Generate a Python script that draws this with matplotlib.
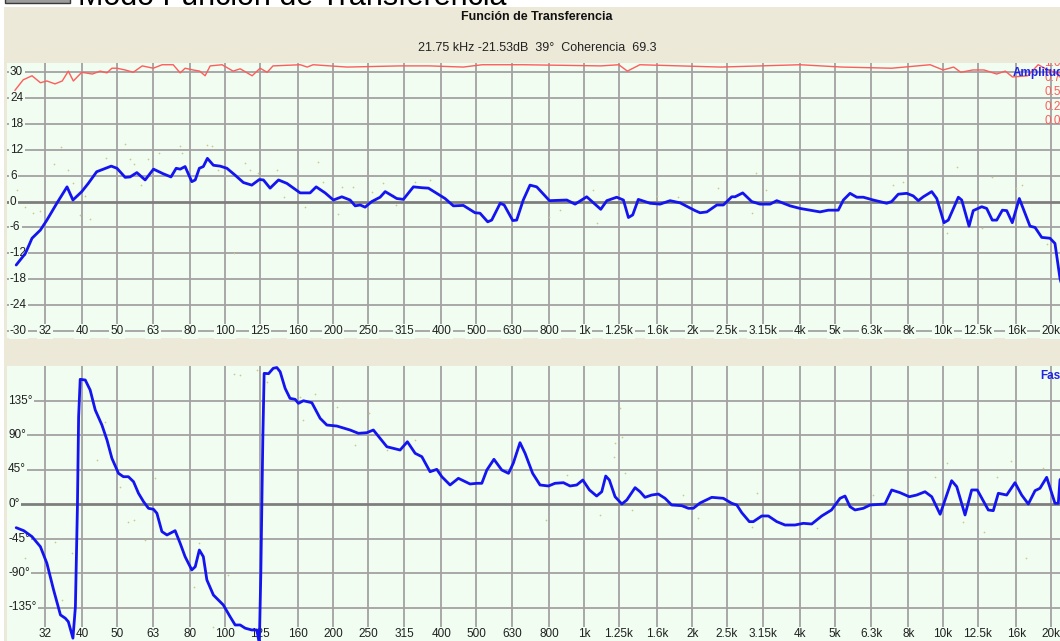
import matplotlib.pyplot as plt
from matplotlib.patches import Rectangle

# -------------------------
# Datos
# -------------------------
freq_ticks = [31.5, 40, 50, 63, 80, 100, 125, 160, 200, 250, 315, 400, 500, 630, 800,
              1000, 1250, 1600, 2000, 2500, 3150, 4000, 5000, 6300, 8000, 10000, 12500,
              16000, 20000]
freq_labels = ["32", "40", "50", "63", "80", "100", "125", "160", "200", "250", "315",
               "400", "500", "630", "800", "1k", "1.25k", "1.6k", "2k", "2.5k", "3.15k",
               "4k", "5k", "6.3k", "8k", "10k", "12.5k", "16k", "20k"]

amp_ticks = [30, 24, 18, 12, 6, 0, -6, -12, -18, -24, -30]
phase_ticks = [135, 90, 45, 0, -45, -90, -135]
phase_labels = ["135°", "90°", "45°", "0°", "-45°", "-90°", "-135°"]
coh_ticks = [1.0, 0.75, 0.5, 0.25, 0.0]
coh_labels = ["1.0", "0.7", "0.5", "0.2", "0.0"]

# amplitud (dB)
amp_freq = [26.2, 27.8, 29.0, 30.6, 31.9, 34.0, 36.3, 37.7, 39.9, 41.6,
            43.9, 45.8, 48.2, 50.0, 52.7, 54.4, 56.8, 59.9, 63.2, 67.4,
            70.7, 73.1, 75.0, 77.4, 80.8, 82.6, 84.8, 87.0, 89.3, 92.8,
            96.9, 101.2, 106.7, 112.5, 118.7, 124.6, 127.9, 133.5, 140.9, 148.7,
            161.9, 172.5, 179.4, 190.0, 200.4, 211.5, 223.0, 230.4, 237.9, 245.5,
            256.3, 270.3, 279.3, 300.8, 313.8, 334.7, 353.3, 368.5, 410, 432.5,
            461, 497, 513, 539, 553, 584, 599, 633, 649, 677,
            707, 738, 801, 895, 944, 1017, 1113, 1157, 1233, 1287,
            1329, 1366, 1416, 1527, 1628, 1736, 1851, 2038, 2104, 2198,
            2343, 2443, 2578, 2634, 2766, 2930, 3091, 3297, 3441, 3748,
            3996, 4261, 4541, 4790, 5105, 5275, 5505, 5748, 5996, 6391,
            6964, 7191, 7501, 7917, 8257, 8530, 8808, 9296, 9600, 10057,
            10339, 11026, 11267, 11810, 12133, 12810, 13224, 13707, 14105, 14623,
            15036, 15583, 16300, 17460, 18035, 18822, 19847, 20490, 20935, 21160,
            21750]
amp_db = [-14.7, -12.0, -8.5, -6.6, -4.3, -0.4, 3.4, 0.35, 2.3, 4.2,
          6.9, 7.5, 8.2, 7.7, 5.6, 5.7, 6.7, 5.0, 7.5, 6.4,
          5.7, 7.7, 7.5, 8.1, 4.6, 5.0, 7.7, 8.1, 10.0, 8.4,
          8.2, 7.7, 6.1, 4.4, 3.8, 5.1, 5.0, 3.1, 5.0, 4.2,
          2.0, 2.0, 3.4, 2.0, 0.35, 1.1, 0.35, -1.0, -0.8, -1.3,
          0.0, 1.0, 2.3, 0.7, 0.5, 3.4, 3.2, 3.1, 0.7, -1.0,
          -0.9, -2.6, -2.7, -4.7, -4.3, -0.4, -0.8, -4.4, -4.3, 0.35,
          3.8, 3.4, 0.2, 0.35, -0.6, 1.1, -1.8, 0.2, 1.0, 0.35,
          -3.7, -3.1, 0.5, -0.4, -0.6, 0.2, -0.3, -2.1, -2.6, -2.4,
          -0.8, -0.8, 1.1, 1.1, 2.0, 0.0, -0.6, -0.6, 0.2, -1.0,
          -1.6, -2.0, -2.4, -2.0, -2.0, 0.35, 1.9, 1.0, 1.0, 0.35,
          -0.4, 0.0, 1.7, 1.9, 1.3, 0.2, 1.1, 2.3, 0.7, -4.9,
          -4.3, 1.0, 0.35, -5.7, -2.1, -1.2, -1.6, -4.3, -4.3, -2.0,
          -2.1, -4.9, 0.7, -5.7, -6.0, -8.3, -8.5, -9.7, -15.1, -17.8,
          -21.5]

# fase (grados)
ph_freq = [26.2, 27.5, 29.0, 30.6, 31.9, 33.3, 34.8, 35.9, 36.6, 37.7,
           38.3, 38.8, 39.1, 39.5, 40.8, 42.1, 43.5, 45.4, 46.9, 48.4,
           50.5, 52.1, 53.8, 55.6, 57.4, 59.3, 61.2, 63.2, 64.6, 66.7,
           68.9, 72.6, 75.0, 77.4, 80.8, 82.6, 84.8, 87.0, 89.0, 92.8,
           98.9, 103.3, 106.7, 110.2, 113.8, 118.7, 122.6, 124.6, 125.8, 127.4,
           128.5, 132.2, 136.2, 139.4, 142.4, 147.0, 151.7, 156.8, 160.1, 165.3,
           174.5, 184.0, 192.1, 204.8, 223.0, 235.2, 248.2, 258.9, 282.3, 307.3,
           322, 338.5, 353.3, 372.4, 388.8, 401.6, 423.4, 446.6, 481.3, 503,
           519, 536, 561, 590, 616, 635, 663, 685, 719, 754,
           796, 830, 876, 914, 954, 992, 1035, 1084, 1120, 1149,
           1176, 1220, 1274, 1315, 1387, 1432, 1478, 1543, 1610, 1681,
           1754, 1871, 1952, 2015, 2104, 2268, 2443, 2578, 2663, 2749,
           2886, 2961, 3125, 3260, 3441, 3628, 3869, 4081, 4305, 4592,
           4888, 5163, 5331, 5505, 5684, 5996, 6260, 6888, 7191, 7585,
           8050, 8440, 8905, 9296, 9810, 10562, 10914, 11510, 12010, 12450,
           13362, 13795, 14250, 15036, 15856, 16550, 17270, 18035, 18610, 19430,
           20490, 20935, 21160, 21750]
ph_deg = [-30.9, -34.8, -42.6, -55.7, -77.3, -112, -144.7, -149, -153.5, -175,
          -134, -3.5, 113.8, 162.6, 161.7, 148.7, 122.6, 103, 83.5, 59.6,
          40, 35.6, 35.6, 29.1, 14, 3, -5.6, -6.9, -12.1, -36,
          -40.4, -34.8, -51.3, -68.7, -86, -81.8, -60, -68.7, -99, -118.7,
          -131.7, -147, -157.8, -157.8, -162, -164.3, -164.3, -182, -90, 83.5,
          170.4, 170, 177, 178, 172.5, 150.9, 137.8, 136.5, 131.3, 134.7,
          132.1, 111.8, 103, 101.7, 96.5, 92.2, 93, 96.5, 74.7, 70.4,
          81.2, 66.1, 61.7, 42.1, 45.2, 35.6, 24.8, 33.5, 26.1, 27,
          27, 44.3, 58.3, 44.3, 40, 53.1, 80, 66.1, 40, 24.8,
          23.5, 27, 27.8, 23.5, 24.8, 31.3, 18.3, 10.4, 16, 36.5,
          31.3, 9.5, 0, 5.2, 21.3, 16, 8.7, 11.7, 13, 7.4,
          -1.3, -2.2, -5.6, -5.6, 1.3, 8.7, 7.4, 0.9, -1.3, -11.3,
          -23, -23, -15.6, -15.6, -23, -27.4, -27.4, -25.2, -26.1, -15.6,
          -7.8, 7.4, 10.4, -3.5, -7.8, -5.6, -1.3, 0, 18.3, 14.8,
          9.5, 11.7, 16, 9.5, -13.4, 30.4, 22.6, -14.3, 18.3, 18.3,
          -7.8, -8.7, 14, 11.7, 27.8, 11.7, 0, 17.4, 20.5, 34.8,
          0.9, 0.9, 31.3, 39]

# coherencia (0..1)
coh_freq = [26.0, 27.4, 29.0, 30.6, 31.9, 33.6, 35.2, 36.6, 37.8, 39.9,
            42.7, 44.9, 46.9, 48.4, 50.0, 52.7, 55.5, 58.8, 63.1, 66.8,
            71.7, 75.0, 77.4, 81.5, 85.0, 88.0, 90.9, 98.1, 105.3, 110.2,
            119, 125.2, 131.0, 136, 162, 169.4, 175.9, 218.9, 307, 372,
            461, 520, 680, 1113, 1250, 1320, 1430, 2400, 3996, 5230,
            7190, 9200, 10000, 10700, 11200, 12100, 13000, 14100, 14900, 15600,
            17200, 18400, 19600, 20500, 21750]
coh = [0.53, 0.71, 0.78, 0.66, 0.69, 0.64, 0.69, 0.86, 0.69, 0.84,
       0.81, 0.86, 0.83, 0.91, 0.91, 0.88, 0.84, 0.95, 0.91, 0.97,
       0.97, 0.83, 0.91, 0.88, 0.86, 0.78, 0.95, 0.97, 0.86, 0.90,
       0.78, 0.91, 0.84, 0.95, 0.97, 0.93, 0.97, 0.93, 0.95, 0.95,
       0.93, 0.97, 0.97, 0.95, 0.97, 0.86, 0.97, 0.93, 0.97, 0.93,
       0.91, 0.97, 0.88, 0.93, 0.84, 0.88, 0.88, 0.81, 0.86, 0.76,
       0.78, 0.97, 0.88, 0.84, 0.69]

# puntos sin suavizar
dot_amp_freq = [34.9, 33.3, 36.6, 26.3, 27.8, 29.1, 30.6, 37.7, 39.5, 40.8,
                42.1, 46.7, 52.7, 55.6, 54.2, 58.3, 61.2, 65.6, 74.7, 75.9,
                89.0, 91.9, 95.8, 105.6, 113.8, 117.0, 123.6, 139.4, 145.5, 167.5,
                182, 187.2, 206, 211.5, 227, 256, 276, 294, 300, 338,
                372, 801, 857, 1084, 1057, 1246, 1594, 1830, 3020, 2930,
                2366, 3220, 7240, 7750, 10900, 10250, 13650, 15970, 16600, 19430,
                12810]
dot_amp_db = [12.7, 8.8, 7.3, 2.7, -1.3, -2.6, -2.1, 4.3, -3.1, 1.3,
              -4.1, 10, 13.3, 8.8, 9.8, 3.8, 9.8, 11.2, 12.8, 11.2,
              13.1, 12.8, 7.3, -11.9, 9.0, 7.3, 6.5, 7.3, 1.1, -1.3,
              9.2, 4.6, -2.9, 3.4, 3.4, 2.3, 4.2, 1.5, -0.8, 4.6,
              5.0, -3.5, -2.0, -5.0, 2.7, 2.3, 1.3, 1.1, 6.7, -2.6,
              3.1, 2.7, 3.8, 4.6, 8.1, -7.4, 5.7, 3.1, 3.8, -9.8,
              -6.2]
dot_ph_freq = [105.6, 110, 123, 130.7, 162, 178, 165, 205, 43.9, 46.4,
               64, 51, 53.8, 55.6, 59.9, 33.6, 27.8, 37.4, 35.2, 81.7,
               84.8, 92.8, 102, 251, 230, 338, 282, 785, 895, 1256,
               1274, 1208, 1220, 1300, 1108, 1357, 1890, 2070, 3025, 2930,
               4440, 6391, 10250, 9970, 11330, 12970, 15450, 17000, 19020, 14105,
               9480]
dot_ph_deg = [170, 168, 175, 159.5, 140, 144, 109.5, 127, 57.4, 107,
              33.5, 22.6, -23, -20.9, -47, -49, -70.8, -64.3, -125, -107.8,
              -51.3, -160, -92.6, 119, 77, 84, 70, -20.9, 37.8, 124.8,
              87.8, 61.7, 79, 40, -14.3, -7.8, 11.7, -18.7, 14, -29.6,
              -31.7, 11.7, 53, -86, -23, -36, 56.5, -70.8, 46.5, 35.6,
              35.6]

# -------------------------
# Estilo
# -------------------------
W, H = 1060, 641
PANEL = "#ECE9D8"
PLOT_BG = "#F0FDF0"
GRID = "#A2A2A2"
ZERO = "#7E7E7E"
BLUE = "#1414F0"
RED = "#FF5C5C"
DOT = "#C9C98A"
FS = 8.5

plt.rcParams["font.family"] = ["Liberation Sans", "DejaVu Sans"]


def px_box(x0, y0, x1, y1):
    return [x0 / W, 1 - y1 / H, (x1 - x0) / W, (y1 - y0) / H]


def clean(ax):
    for s in ax.spines.values():
        s.set_visible(False)
    ax.set_xticks([])
    ax.set_xticks([], minor=True)
    ax.set_yticks([])
    ax.set_yticks([], minor=True)


label_box = dict(boxstyle="square,pad=0.12", fc=PLOT_BG, ec="none")

fig = plt.figure(figsize=(W / 100, H / 100), dpi=100)
fig.patch.set_facecolor("white")
fig.patches.append(Rectangle((4 / W, 0), 1, (H - 7) / H, transform=fig.transFigure,
                             facecolor=PANEL, edgecolor="none", zorder=-2))
fig.patches.append(Rectangle((5 / W, 1 - 2.5 / H), 65 / W, 0.05, transform=fig.transFigure,
                             facecolor="#9C9C9C", edgecolor="#3A3A3A", lw=1, zorder=-1))
fig.text(78 / W, 1 - 5 / H, "Modo Función de Transferencia", fontsize=22,
         va="baseline", ha="left", color="black", zorder=-1)

fig.text(537 / W, 1 - 17 / H, "Función de Transferencia", fontsize=9, fontweight="bold",
         ha="center", va="center", color="#111111")
fig.text(537 / W, 1 - 48 / H, "21.75 kHz -21.53dB  39°  Coherencia  69.3", fontsize=9,
         ha="center", va="center", color="#222222")

# -------------------------
# Amplitud
# -------------------------
ax = fig.add_axes(px_box(7, 63, 1075, 338))
ax.set_facecolor(PLOT_BG)
ax.set_xscale("log")
ax.set_xlim(24.7, 23300)
ax.set_ylim(-31.6, 32.08)
clean(ax)

for f in freq_ticks:
    ax.axvline(f, color=GRID, lw=1.3, zorder=1)
for v in amp_ticks:
    ax.axhline(v, color=ZERO if v == 0 else GRID, lw=2 if v == 0 else 1.3, zorder=1)

for v in amp_ticks:
    ax.text(0.0028, v, str(v), transform=ax.get_yaxis_transform(), fontsize=FS,
            ha="left", va="center", color="#202020", bbox=label_box, zorder=2)
for f, lab in zip(freq_ticks, freq_labels):
    ax.text(f, -30, lab, fontsize=FS, ha="center", va="center", color="#202020",
            bbox=label_box, zorder=2)

ax.scatter(dot_amp_freq, dot_amp_db, s=1.5, color=DOT, zorder=3, linewidths=0)
ax.plot(amp_freq, amp_db, color=BLUE, lw=2, zorder=4,
        solid_joinstyle="round", solid_capstyle="round")

# coherencia sobre eje propio
axc = ax.twinx()
axc.set_ylim(-3.741, 1.0)
axc.axis("off")
axc.plot(coh_freq, coh, color=RED, lw=1.0, zorder=4)
for v, lab in zip(coh_ticks, coh_labels):
    axc.text(0.971, v, lab, transform=axc.get_yaxis_transform(), fontsize=FS,
             ha="left", va="center", color=RED, clip_on=True, zorder=6)

fig.text(1013 / W, 1 - 73 / H, "Amplitud", fontsize=FS, fontweight="bold",
         color="#2323E6", ha="left", va="center", zorder=10)

# -------------------------
# Fase
# -------------------------
axp = fig.add_axes(px_box(7, 366, 1075, 642))
axp.set_facecolor(PLOT_BG)
axp.set_xscale("log")
axp.set_xlim(24.7, 23300)
axp.set_ylim(-180, 180)
clean(axp)

for f in freq_ticks:
    axp.axvline(f, color=GRID, lw=1.3, zorder=1)
for v in phase_ticks:
    axp.axhline(v, color=ZERO if v == 0 else GRID, lw=2 if v == 0 else 1.3, zorder=1)

for v, lab in zip(phase_ticks, phase_labels):
    axp.text(0.001, v, lab, transform=axp.get_yaxis_transform(), fontsize=FS,
             ha="left", va="center", color="#202020", bbox=label_box, zorder=2)
for f, lab in zip(freq_ticks, freq_labels):
    axp.text(f, -170, lab, fontsize=FS, ha="center", va="center", color="#202020",
             bbox=label_box, zorder=2)

axp.scatter(dot_ph_freq, dot_ph_deg, s=1.5, color=DOT, zorder=3, linewidths=0)
axp.plot(ph_freq, ph_deg, color=BLUE, lw=2, zorder=4,
         solid_joinstyle="round", solid_capstyle="round")

fig.text(1040 / W, 1 - 376 / H, "Fase", fontsize=FS, fontweight="bold",
         color="#2323E6", ha="left", va="center", zorder=10)

fig.savefig("out.png", dpi=100)
